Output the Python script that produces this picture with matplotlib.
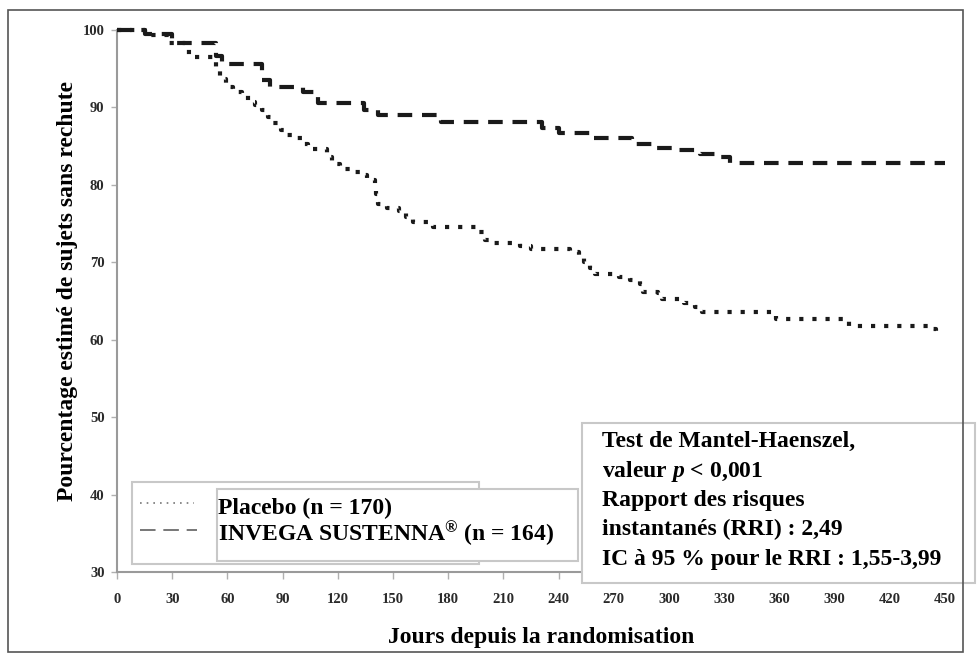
import matplotlib
matplotlib.use('Agg')
import matplotlib.pyplot as plt
from matplotlib.patches import Rectangle
from matplotlib.lines import Line2D

# ---------------- data ----------------
invega_days = [0, 15, 30, 54, 57, 79, 83, 101, 109, 134, 142, 176, 231, 240, 257,
               280, 293, 302, 317, 325, 333, 450]
invega_surv = [100, 99.5, 98.3, 96.6, 95.6, 93.6, 92.6, 92.0, 90.6, 89.7, 89.0, 88.1,
               87.4, 86.7, 86.0, 85.3, 84.8, 84.5, 84.0, 83.6, 82.8, 82.8]

placebo_days = [0, 15, 28, 37, 41, 54, 56, 59, 63, 68, 71, 75, 79, 82, 85, 89, 92, 97,
                101, 104, 114, 117, 121, 127, 133, 136, 140, 141, 142, 147, 153, 157,
                161, 172, 197, 200, 205, 219, 225, 246, 251, 254, 257, 260, 273, 279,
                284, 286, 294, 296, 308, 314, 318, 358, 398, 441, 445, 447]
placebo_surv = [100, 99.4, 98.3, 97.2, 96.5, 94.8, 93.7, 92.7, 92.0, 91.6, 90.7, 90.3,
                89.7, 88.8, 88.0, 87.1, 86.4, 86.0, 85.3, 84.6, 83.6, 82.7, 82.0, 81.7,
                81.3, 80.6, 80.0, 78.8, 77.5, 77.0, 76.6, 75.8, 75.2, 74.5, 73.9, 72.9,
                72.5, 72.1, 71.7, 71.3, 70.8, 70.0, 69.3, 68.5, 68.1, 67.7, 67.2, 66.2,
                66.0, 65.3, 64.7, 64.2, 63.6, 62.7, 61.8, 61.4, 60.7, 60.7]

x_ticks = list(range(0, 451, 30))
y_ticks = list(range(30, 101, 10))

label_placebo = "Placebo (n = 170)"
label_invega = r"INVEGA SUSTENNA$^{\mathrm{®}}$ (n = 164)"
stats_lines = ["Test de Mantel-Haenszel,",
               r"valeur $p$ < 0,001",
               "Rapport des risques",
               "instantanés (RRI) : 2,49",
               "IC à 95 % pour le RRI : 1,55-3,99"]
xlabel = "Jours depuis la randomisation"
ylabel = "Pourcentage estimé de sujets sans rechute"

# ---------------- style ----------------
plt.rcParams['font.family'] = ['Liberation Serif', 'DejaVu Serif']
plt.rcParams['font.weight'] = 'bold'
plt.rcParams['mathtext.fontset'] = 'custom'
plt.rcParams['mathtext.rm'] = 'Liberation Serif:bold'
plt.rcParams['mathtext.it'] = 'Liberation Serif:italic:bold'
plt.rcParams['mathtext.bf'] = 'Liberation Serif:bold'

W, H = 977, 658
fig = plt.figure(figsize=(W / 100, H / 100), dpi=100)
fig.patch.set_facecolor('white')

def fx(px):
    return px / W

def fy(py):
    return 1 - py / H

FS = 17

ax_l, ax_r, ax_t, ax_b = 117, 945, 30, 572
ax = fig.add_axes([fx(ax_l), fy(ax_b), (ax_r - ax_l) / W, (ax_b - ax_t) / H])
ax.set_xlim(0, 450)
ax.set_ylim(30, 100)

line_col = '#1a1a1a'
lw = 3.0
ax.plot(placebo_days, placebo_surv, drawstyle='steps-post', color=line_col, lw=lw,
        linestyle=(0, (1.0, 2.15)), clip_on=False, zorder=3)
ax.plot(invega_days, invega_surv, drawstyle='steps-post', color=line_col, lw=lw,
        linestyle=(0, (3.5, 2.35)), dash_capstyle='butt', clip_on=False, zorder=3)

for s in ['top', 'right']:
    ax.spines[s].set_visible(False)
for s in ['left', 'bottom']:
    ax.spines[s].set_color('#9a9a9a')
    ax.spines[s].set_linewidth(1.5)

ax.set_xticks(x_ticks)
ax.set_yticks(y_ticks)
ax.tick_params(axis='both', direction='out', color='#b0b0b0', width=1,
               labelsize=10.5, labelcolor='#2a2a2a')
ax.tick_params(axis='x', length=5, pad=10)
ax.tick_params(axis='y', length=4, pad=5)
for t in ax.get_xticklabels() + ax.get_yticklabels():
    t.set_fontweight('bold')

# axis labels
fig.text(fx(541), fy(643), xlabel, ha='center', va='baseline', fontsize=FS,
         fontweight='bold', color='black')
fig.text(fx(68), fy(291), ylabel, ha='center', va='center', rotation=90,
         fontsize=FS, fontweight='bold', color='black')

# legend (manual)
edge = '#c8c8c8'
fig.add_artist(Rectangle((fx(132), fy(564)), (479 - 132) / W, (564 - 482) / H,
                         transform=fig.transFigure, facecolor='white',
                         edgecolor=edge, lw=1.5, zorder=5))
fig.add_artist(Rectangle((fx(217), fy(561)), (578 - 217) / W, (561 - 489) / H,
                         transform=fig.transFigure, facecolor='white',
                         edgecolor=edge, lw=1.5, zorder=6))
fig.add_artist(Line2D([fx(140), fx(194)], [fy(503), fy(503)], transform=fig.transFigure,
                      color='#777777', lw=1.2, linestyle=(0, (1, 3)), zorder=7))
fig.add_artist(Line2D([fx(140), fx(197)], [fy(530), fy(530)], transform=fig.transFigure,
                      color='#777777', lw=1.4, linestyle=(0, (8, 4)), zorder=7))
fig.text(fx(218), fy(514), label_placebo, ha='left', va='baseline', fontsize=FS,
         fontweight='bold', zorder=8)
fig.text(fx(218), fy(541), label_invega, ha='left', va='baseline', fontsize=FS,
         fontweight='bold', zorder=8)

# statistics box
fig.add_artist(Rectangle((fx(582), fy(583)), (975 - 582) / W, (583 - 423) / H,
                         transform=fig.transFigure, facecolor='white',
                         edgecolor=edge, lw=1.5, zorder=9))
for i, s in enumerate(stats_lines):
    fig.text(fx(602), fy(447 + 29.5 * i), s, ha='left', va='baseline', fontsize=FS,
             fontweight='bold', zorder=10)

# outer frame
fig.add_artist(Rectangle((fx(8), fy(652)), (963 - 8) / W, (652 - 10) / H,
                         transform=fig.transFigure, facecolor='none',
                         edgecolor='#555555', lw=1.2, zorder=11))

fig.savefig('out.png', dpi=100)
